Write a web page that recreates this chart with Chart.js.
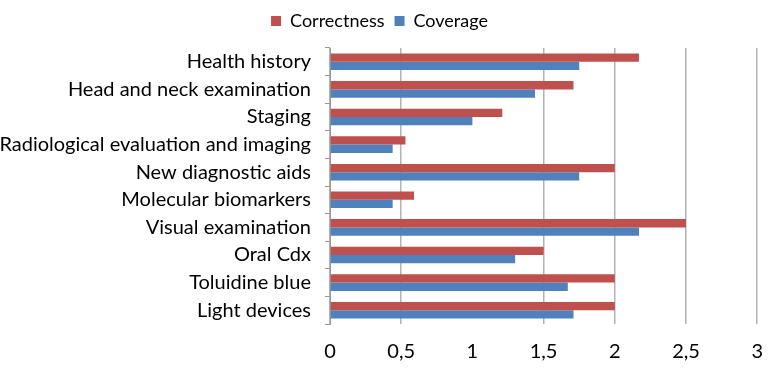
<!DOCTYPE html>
<html>
<head>
<meta charset="utf-8">
<script src="https://cdn.jsdelivr.net/npm/chart.js@4/dist/chart.umd.min.js"></script>
<style>
  html, body { margin: 0; padding: 0; background: #fff; }
  #wrap { width: 779px; height: 368px; }
</style>
</head>
<body>
<div id="wrap"><canvas id="myChart"></canvas></div>
<script>
const categories = ['Health history', 'Head and neck examination', 'Staging', 'Radiological evaluation and imaging',
    'New diagnostic aids', 'Molecular biomarkers', 'Visual examination', 'Oral Cdx', 'Toluidine blue', 'Light devices'];
const correctness = [2.17, 1.71, 1.21, 0.53, 2.0, 0.59, 2.5, 1.5, 2.0, 2.0];
const coverage = [1.75, 1.44, 1.0, 0.44, 1.75, 0.44, 2.17, 1.3, 1.67, 1.71];
const tickLabels = ['0', '0,5', '1', '1,5', '2', '2,5', '3'];

const font = "Lato, 'Open Sans', sans-serif";

// extra room between legend and plot
const legendGap = {
    id: 'legendGap',
    beforeLayout(chart) {
        const lg = chart.legend;
        if (lg && !lg._gapPatched) {
            const fit = lg.fit;
            lg.fit = function () { fit.call(this); this.height += 8; };
            lg._gapPatched = true;
        }
    }
};

new Chart(document.getElementById('myChart').getContext('2d'), {
    type: 'bar',
    data: {
        labels: categories,
        datasets: [
            { label: 'Correctness', data: correctness, backgroundColor: '#C0504D' },
            { label: 'Coverage', data: coverage, backgroundColor: '#4F81BD' }
        ]
    },
    options: {
        indexAxis: 'y',
        responsive: true,
        maintainAspectRatio: false,
        animation: false,
        layout: { padding: { top: 2, right: 20, bottom: 4, left: 0 } },
        datasets: { bar: { barPercentage: 1, categoryPercentage: 0.6 } },
        plugins: {
            legend: {
                position: 'top',
                labels: {
                    boxWidth: 10, boxHeight: 10, color: '#000',
                    font: { family: font, size: 18 }, padding: 10
                }
            },
            tooltip: { enabled: false }
        },
        scales: {
            x: {
                min: 0, max: 3,
                ticks: {
                    stepSize: 0.5, color: '#000', padding: 16,
                    font: { family: font, size: 20 },
                    callback: (v, i) => tickLabels[i]
                },
                grid: {
                    color: (ctx) => ctx.tick && ctx.tick.value === 1 ? 'rgba(0,0,0,0)' : '#b3b3b3',
                    lineWidth: 1.5, tickLength: 0
                },
                border: { display: false },
                afterFit: (axis) => { axis.height = 40; }
            },
            y: {
                ticks: { color: '#000', font: { family: font, size: 20 }, padding: 14, autoSkip: false },
                grid: { offset: true, drawOnChartArea: false, tickLength: 5, color: '#999' },
                border: { color: '#999' },
                afterFit: (axis) => { axis.width = 330; }
            }
        }
    },
    plugins: [legendGap]
});
</script>
</body>
</html>
